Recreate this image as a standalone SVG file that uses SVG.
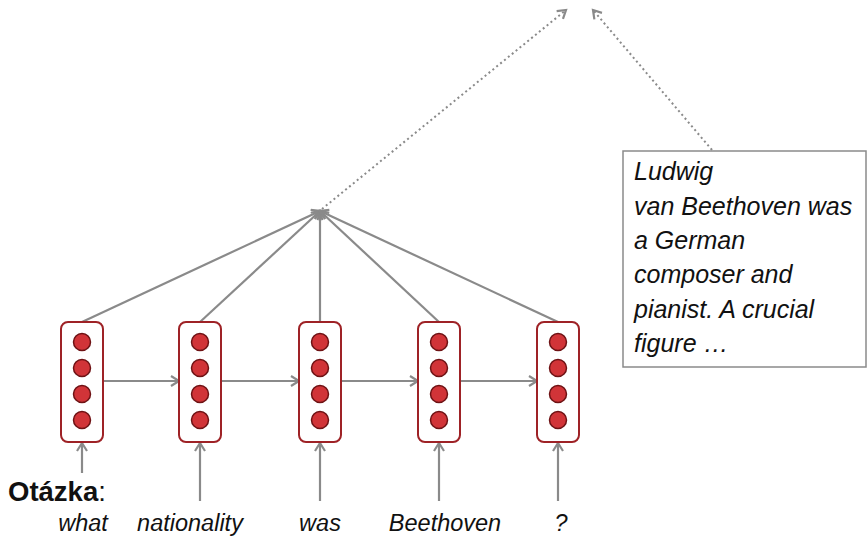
<svg xmlns="http://www.w3.org/2000/svg" width="868" height="537" viewBox="0 0 868 537">
<style>
.box{fill:#fff;stroke:#9e2226;stroke-width:2}
.dot{fill:#d13438;stroke:#6e1214;stroke-width:1.5}
.ln{stroke:#8a8a8a;stroke-width:2.2;fill:none}
.dl{stroke:#8a8a8a;stroke-width:2;fill:none;stroke-dasharray:2 3}
.w{font-family:"Liberation Sans",Arial,sans-serif;font-style:italic;font-size:23.5px;fill:#111}
.p{font-family:"Liberation Sans",Arial,sans-serif;font-style:italic;font-size:25px;fill:#111}
</style>
<defs>
<marker id="ah" markerUnits="userSpaceOnUse" markerWidth="14" markerHeight="14" refX="10" refY="6" orient="auto">
<path d="M2,1 L10,6 L2,11" fill="none" stroke="#8a8a8a" stroke-width="2.2"/>
</marker>
<g id="cell">
<rect class="box" x="-21" y="0" width="42" height="120" rx="7"/>
<circle class="dot" cx="0" cy="20" r="8.5"/>
<circle class="dot" cx="0" cy="46" r="8.5"/>
<circle class="dot" cx="0" cy="72" r="8.5"/>
<circle class="dot" cx="0" cy="98" r="8.5"/>
</g>
</defs>
<g id="connectors">
<line class="ln" x1="82" y1="322" x2="320" y2="211" marker-end="url(#ah)"/>
<line class="ln" x1="200" y1="322" x2="320" y2="211" marker-end="url(#ah)"/>
<line class="ln" x1="320" y1="322" x2="320" y2="211" marker-end="url(#ah)"/>
<line class="ln" x1="439" y1="322" x2="320" y2="211" marker-end="url(#ah)"/>
<line class="ln" x1="558" y1="322" x2="320" y2="211" marker-end="url(#ah)"/>
<line class="ln" x1="103" y1="381" x2="179" y2="381" marker-end="url(#ah)"/>
<line class="ln" x1="221" y1="381" x2="299" y2="381" marker-end="url(#ah)"/>
<line class="ln" x1="341" y1="381" x2="418" y2="381" marker-end="url(#ah)"/>
<line class="ln" x1="460" y1="381" x2="537" y2="381" marker-end="url(#ah)"/>
<line class="ln" x1="82" y1="473" x2="82" y2="443" marker-end="url(#ah)"/>
<line class="ln" x1="200" y1="501" x2="200" y2="443" marker-end="url(#ah)"/>
<line class="ln" x1="320" y1="501" x2="320" y2="443" marker-end="url(#ah)"/>
<line class="ln" x1="439" y1="501" x2="439" y2="443" marker-end="url(#ah)"/>
<line class="ln" x1="558" y1="501" x2="558" y2="443" marker-end="url(#ah)"/>
<line class="dl" x1="322" y1="209" x2="566" y2="10" marker-end="url(#ah)"/>
<line class="dl" x1="712" y1="150" x2="593" y2="10" marker-end="url(#ah)"/>
</g>
<g id="h1"><use href="#cell" x="82" y="322"/></g>
<g id="h2"><use href="#cell" x="200" y="322"/></g>
<g id="h3"><use href="#cell" x="320" y="322"/></g>
<g id="h4"><use href="#cell" x="439" y="322"/></g>
<g id="h5"><use href="#cell" x="558" y="322"/></g>
<g id="question">
<text x="8" y="501" font-family="Liberation Sans,Arial,sans-serif" font-size="27.5px" fill="#111"><tspan font-weight="bold">Otázka</tspan>:</text>
<text class="w" x="83" y="531" text-anchor="middle">what</text>
<text class="w" x="190" y="531" text-anchor="middle">nationality</text>
<text class="w" x="320" y="531" text-anchor="middle">was</text>
<text class="w" x="445" y="531" text-anchor="middle">Beethoven</text>
<text class="w" x="561" y="531" text-anchor="middle">?</text>
</g>
<g id="passage">
<rect x="623" y="151" width="243" height="216" fill="#fff" stroke="#8a8a8a" stroke-width="1.5"/>
<text class="p" x="634" y="180">Ludwig</text>
<text class="p" x="634" y="215">van Beethoven was</text>
<text class="p" x="634" y="249">a German</text>
<text class="p" x="634" y="283">composer and</text>
<text class="p" x="634" y="318">pianist. A crucial</text>
<text class="p" x="634" y="352">figure …</text>
</g>
</svg>
